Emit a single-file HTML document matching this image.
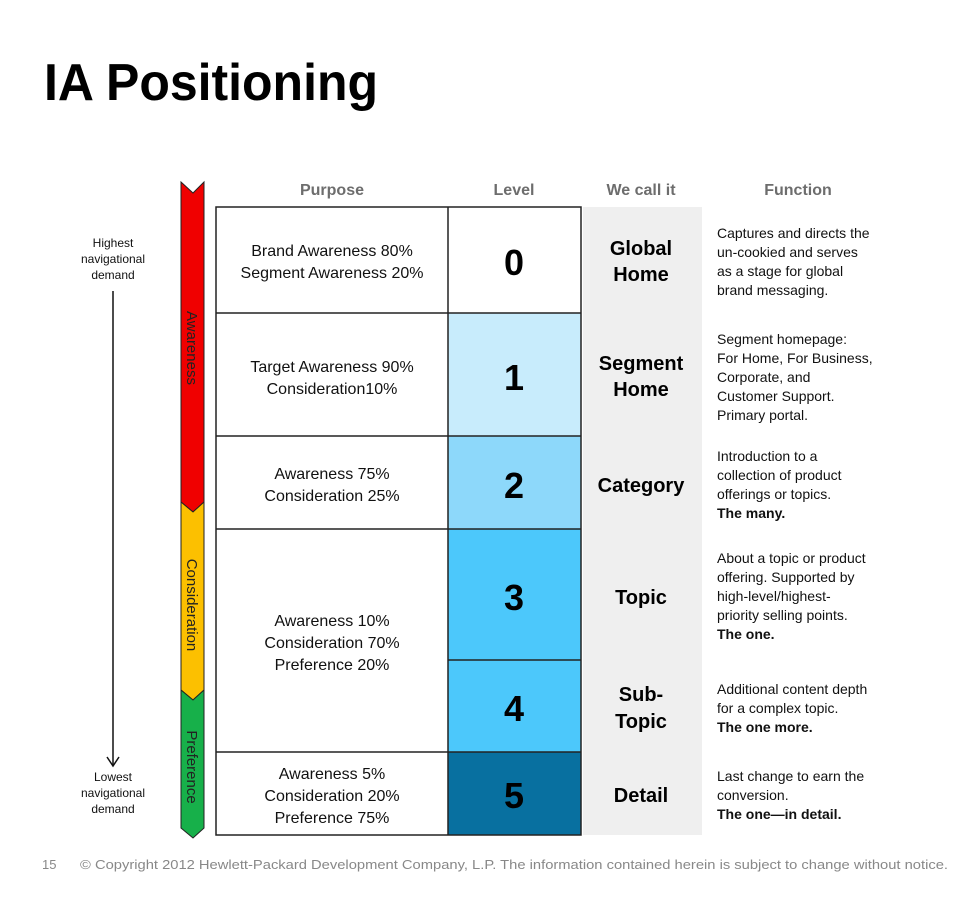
<!DOCTYPE html>
<html><head><meta charset="utf-8"><style>
html,body{margin:0;padding:0;background:#fff;}
svg{display:block;font-family:"Liberation Sans",sans-serif;}
</style></head><body>
<svg width="960" height="913" viewBox="0 0 960 913" xmlns="http://www.w3.org/2000/svg">
<text x="44" y="100" font-size="52" font-weight="bold" fill="#000" textLength="334" lengthAdjust="spacingAndGlyphs">IA Positioning</text>

<!-- headers -->
<g font-size="16" font-weight="bold" fill="#6d6d6d" text-anchor="middle">
<text x="332" y="195">Purpose</text>
<text x="514" y="195">Level</text>
<text x="641" y="195">We call it</text>
<text x="798" y="195">Function</text>
</g>

<!-- grey column -->
<rect x="583" y="207" width="119" height="628" fill="#efefef"/>

<!-- level colours -->
<rect x="448" y="313" width="133" height="123" fill="#c8ecfc"/>
<rect x="448" y="436" width="133" height="93" fill="#8dd8fa"/>
<rect x="448" y="529" width="133" height="223" fill="#4cc8fb"/>
<rect x="448" y="752" width="133" height="83" fill="#0870a0"/>

<!-- table lines -->
<g stroke="#222" stroke-width="1.5" fill="none">
<rect x="216" y="207" width="365" height="628"/>
<line x1="448" y1="207" x2="448" y2="835"/>
<line x1="216" y1="313" x2="581" y2="313"/>
<line x1="216" y1="436" x2="581" y2="436"/>
<line x1="216" y1="529" x2="581" y2="529"/>
<line x1="448" y1="660" x2="581" y2="660"/>
<line x1="216" y1="752" x2="581" y2="752"/>
</g>

<!-- purpose text -->
<g font-size="16" fill="#111" text-anchor="middle">
<text x="332" y="256">Brand Awareness 80%</text>
<text x="332" y="278">Segment Awareness 20%</text>
<text x="332" y="372">Target Awareness 90%</text>
<text x="332" y="394">Consideration10%</text>
<text x="332" y="479">Awareness 75%</text>
<text x="332" y="501">Consideration 25%</text>
<text x="332" y="626">Awareness 10%</text>
<text x="332" y="648">Consideration 70%</text>
<text x="332" y="670">Preference 20%</text>
<text x="332" y="779">Awareness 5%</text>
<text x="332" y="801">Consideration 20%</text>
<text x="332" y="823">Preference 75%</text>
</g>

<!-- numbers -->
<g font-size="36" font-weight="bold" fill="#000" text-anchor="middle">
<text x="514" y="275">0</text>
<text x="514" y="390">1</text>
<text x="514" y="498">2</text>
<text x="514" y="610">3</text>
<text x="514" y="721">4</text>
<text x="514" y="808">5</text>
</g>

<!-- we call it -->
<g font-size="20" font-weight="bold" fill="#000" text-anchor="middle">
<text x="641" y="255">Global</text>
<text x="641" y="281">Home</text>
<text x="641" y="370">Segment</text>
<text x="641" y="396">Home</text>
<text x="641" y="492">Category</text>
<text x="641" y="604">Topic</text>
<text x="641" y="701">Sub-</text>
<text x="641" y="728">Topic</text>
<text x="641" y="802">Detail</text>
</g>

<!-- function -->
<g font-size="14" fill="#111">
<text x="717" y="238">Captures and directs the</text>
<text x="717" y="257">un-cookied and serves</text>
<text x="717" y="276">as a stage for global</text>
<text x="717" y="295">brand messaging.</text>
<text x="717" y="344">Segment homepage:</text>
<text x="717" y="363">For Home, For Business,</text>
<text x="717" y="382">Corporate, and</text>
<text x="717" y="401">Customer Support.</text>
<text x="717" y="420">Primary portal.</text>
<text x="717" y="461">Introduction to a</text>
<text x="717" y="480">collection of product</text>
<text x="717" y="499">offerings or topics.</text>
<text x="717" y="518" font-weight="bold">The many.</text>
<text x="717" y="563">About a topic or product</text>
<text x="717" y="582">offering. Supported by</text>
<text x="717" y="601">high-level/highest-</text>
<text x="717" y="620">priority selling points.</text>
<text x="717" y="639" font-weight="bold">The one.</text>
<text x="717" y="694">Additional content depth</text>
<text x="717" y="713">for a complex topic.</text>
<text x="717" y="732" font-weight="bold">The one more.</text>
<text x="717" y="781">Last change to earn the</text>
<text x="717" y="800">conversion.</text>
<text x="717" y="819" font-weight="bold">The one—in detail.</text>
</g>

<!-- bars -->
<g stroke="#222" stroke-width="1">
<polygon points="181,182 193,193 204,182 204,502 193,512 181,502" fill="#f00000"/>
<polygon points="181,502 193,512 204,502 204,690 193,700 181,690" fill="#fcc000"/>
<polygon points="181,690 193,700 204,690 204,828 193,838 181,828" fill="#17b04a"/>
</g>
<g font-size="15" fill="#222" text-anchor="middle">
<text transform="translate(187,348) rotate(90)">Awareness</text>
<text transform="translate(187,605) rotate(90)">Consideration</text>
<text transform="translate(187,767) rotate(90)">Preference</text>
</g>

<!-- left arrow -->
<g font-size="12" fill="#111" text-anchor="middle">
<text x="113" y="247">Highest</text>
<text x="113" y="263">navigational</text>
<text x="113" y="279">demand</text>
<text x="113" y="781">Lowest</text>
<text x="113" y="797">navigational</text>
<text x="113" y="813">demand</text>
</g>
<line x1="113" y1="291" x2="113" y2="765" stroke="#111" stroke-width="1.5"/>
<polyline points="107,757 113,766 119,757" fill="none" stroke="#111" stroke-width="1.5"/>

<!-- footer -->
<text x="42" y="869" font-size="13" fill="#888">15</text>
<text x="80" y="869" font-size="13" fill="#888" textLength="868" lengthAdjust="spacingAndGlyphs">© Copyright 2012 Hewlett-Packard Development Company, L.P.  The information contained herein is subject to change without notice.</text>
</svg>
</body></html>
